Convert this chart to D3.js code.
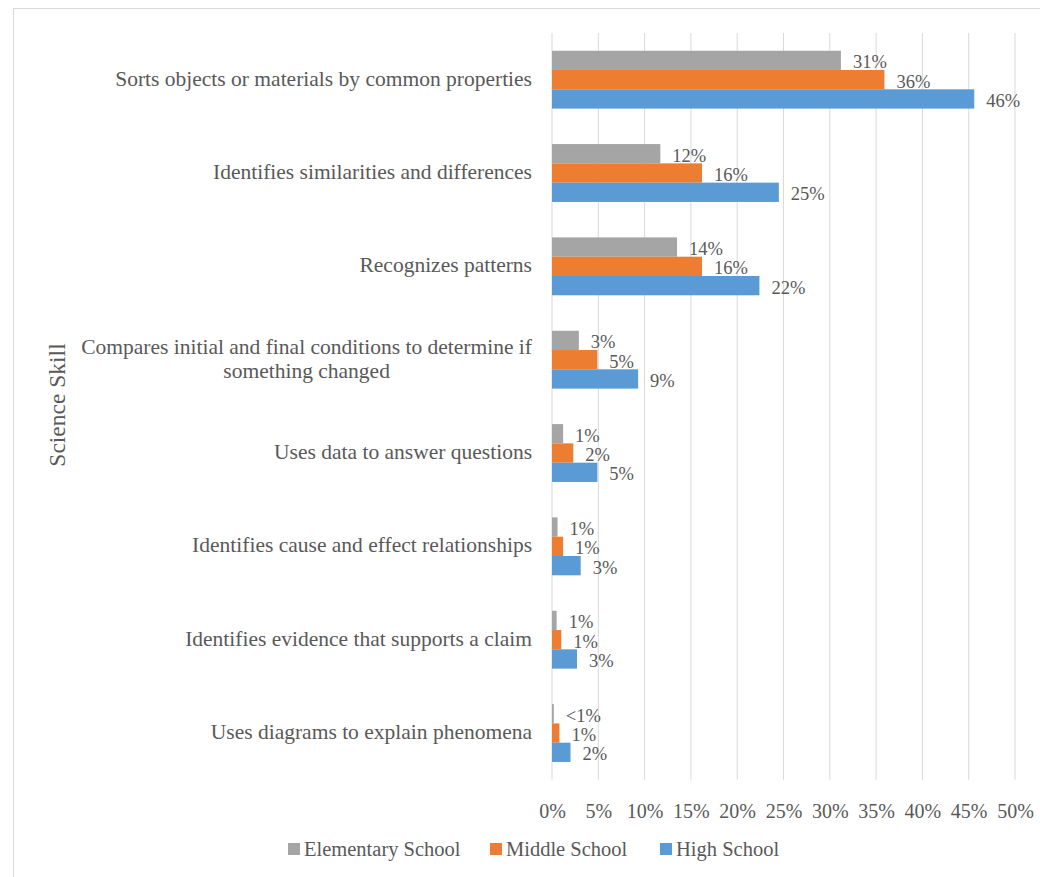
<!DOCTYPE html>
<html>
<head>
<meta charset="utf-8">
<script src="https://cdn.jsdelivr.net/npm/d3@7"></script>
<style>
  body { margin: 0; background: #fff; }
  text { font-family: "Liberation Serif", serif; fill: #595959; }
</style>
</head>
<body>
<div id="my_dataviz"></div>
<script>
var skills = [
  "Sorts objects or materials by common properties",
  "Identifies similarities and differences",
  "Recognizes patterns",
  "Compares initial and final conditions to determine if|something changed",
  "Uses data to answer questions",
  "Identifies cause and effect relationships",
  "Identifies evidence that supports a claim",
  "Uses diagrams to explain phenomena"
];
var seriesNames = ["Elementary School", "Middle School", "High School"];
var seriesColors = ["#a5a5a5", "#ed7d31", "#5b9bd5"];

var elementary = [31.2, 11.7, 13.5, 2.9, 1.2, 0.6, 0.5, 0.2];
var middle = [35.9, 16.2, 16.2, 4.9, 2.3, 1.2, 1.0, 0.8];
var high = [45.6, 24.5, 22.4, 9.3, 4.9, 3.1, 2.7, 2.0];

var elementaryLabels = ["31%", "12%", "14%", "3%", "1%", "1%", "1%", "<1%"];
var middleLabels = ["36%", "16%", "16%", "5%", "2%", "1%", "1%", "1%"];
var highLabels = ["46%", "25%", "22%", "9%", "5%", "3%", "3%", "2%"];

var xTicks = [0, 5, 10, 15, 20, 25, 30, 35, 40, 45, 50];

var W = 1040, H = 877;
var margin = {top: 33, left: 552},
width = 1015 - margin.left,
height = 779.7 - margin.top;

var svg = d3.select("#my_dataviz")
.append("svg")
.attr("width", W)
.attr("height", H);

// chart border (only top and left visible in crop)
svg.append("rect")
.attr("x", 13.5).attr("y", 8.5)
.attr("width", W + 20).attr("height", H + 20)
.attr("fill", "none")
.attr("stroke", "#d9d9d9");

var g = svg.append("g")
.attr("transform", "translate(" + margin.left + "," + margin.top + ")");

var x = d3.scaleLinear().domain([0, 50]).range([0, width]);

var y = d3.scaleBand()
.domain(d3.range(skills.length))
.range([0, height])
.paddingInner(0.38)
.paddingOuter(0.19);

var ySub = d3.scaleBand()
.domain(d3.range(seriesNames.length))
.range([0, y.bandwidth()]);

// gridlines
g.selectAll(".grid")
.data(xTicks)
.enter()
.append("line")
.attr("x1", function(d) { return x(d); })
.attr("x2", function(d) { return x(d); })
.attr("y1", 0)
.attr("y2", height)
.attr("stroke", "#d9d9d9")
.attr("stroke-width", 1);

// x axis labels
var xAxis = g.append("g")
.attr("transform", "translate(0," + height + ")")
.call(d3.axisBottom(x).tickValues(xTicks).tickSize(0).tickPadding(24)
  .tickFormat(function(d) { return d + "%"; }));
xAxis.select(".domain").remove();
xAxis.selectAll("text")
.style("font-family", "'Liberation Serif', serif")
.style("font-size", "20px")
.attr("fill", "#595959");

var series = [
  {values: elementary, labels: elementaryLabels},
  {values: middle, labels: middleLabels},
  {values: high, labels: highLabels}
];

series.forEach(function(s, si) {
  var rows = s.values.map(function(v, i) { return {i: i, v: v, label: s.labels[i]}; });

  g.selectAll(".bar" + si)
  .data(rows)
  .enter()
  .append("rect")
  .attr("x", 0)
  .attr("y", function(d) { return y(d.i) + ySub(si); })
  .attr("width", function(d) { return x(d.v); })
  .attr("height", ySub.bandwidth())
  .attr("fill", seriesColors[si]);

  g.selectAll(".lab" + si)
  .data(rows)
  .enter()
  .append("text")
  .attr("x", function(d) { return x(d.v) + 12; })
  .attr("y", function(d) { return y(d.i) + ySub(si) + ySub.bandwidth() / 2 + 2; })
  .attr("dominant-baseline", "central")
  .style("font-size", "18.5px")
  .text(function(d) { return d.label; });
});

// category labels
skills.forEach(function(s, i) {
  var lines = s.split("|");
  var cy = y(i) + y.bandwidth() / 2 - 1;
  var lh = 24;
  var first = g.append("text")
  .attr("x", -20)
  .attr("y", cy - (lines.length - 1) * lh / 2)
  .attr("text-anchor", "end")
  .attr("dominant-baseline", "central")
  .style("font-size", "21.5px")
  .text(lines[0]);
  if (lines.length > 1) {
    var w1 = first.node().getComputedTextLength();
    g.append("text")
    .attr("x", -20 - w1 / 2)
    .attr("y", cy + lh / 2)
    .attr("text-anchor", "middle")
    .attr("dominant-baseline", "central")
    .style("font-size", "21.5px")
    .text(lines[1]);
  }
});

// axis title
svg.append("text")
.attr("transform", "translate(57,405) rotate(-90)")
.attr("text-anchor", "middle")
.attr("dominant-baseline", "central")
.style("font-size", "23.5px")
.text("Science Skill");

// legend
var legendX = [288, 490, 660];
var legend = svg.selectAll(".legend")
.data(seriesNames)
.enter()
.append("g")
.attr("transform", function(d, i) { return "translate(" + legendX[i] + ",843)"; });

legend.append("rect")
.attr("width", 12)
.attr("height", 12)
.attr("fill", function(d, i) { return seriesColors[i]; });

legend.append("text")
.attr("x", 16)
.attr("y", 6)
.attr("dominant-baseline", "central")
.style("font-size", "20.5px")
.text(function(d) { return d; });
</script>
</body>
</html>
